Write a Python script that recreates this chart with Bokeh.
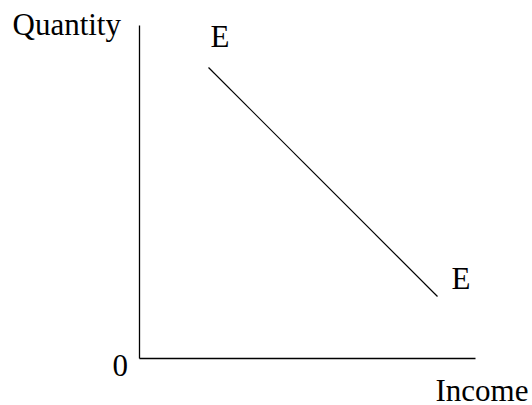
from bokeh.plotting import figure
from bokeh.models import Range1d
from bokeh.core.properties import value
from bokeh.embed import file_html
from bokeh.resources import INLINE

# Engel-type curve E-E: quantity falls as income rises
income = [69, 298]
quantity = [291, 62]

# Axis extents (origin at 0, 0)
x_axis_end = 336
y_axis_end = 333

# Labels
curve_label = "E"
x_title = "Income"
y_title = "Quantity"
origin_label = "0"

FONT = value("Liberation Serif")
SIZE = "31px"

p = figure(width=532, height=405, output_backend="svg", toolbar_location=None,
           x_range=Range1d(-139, 393), y_range=Range1d(-47, 358),
           min_border=0, min_border_left=0, min_border_right=0,
           min_border_top=0, min_border_bottom=0)
p.axis.visible = False
p.grid.visible = False
p.outline_line_color = None
p.background_fill_color = "white"
p.border_fill_color = "white"

# Axes drawn as plain lines
p.line([0, 0], [0, y_axis_end], line_color="black", line_width=1.3)
p.line([0, x_axis_end], [0, 0], line_color="black", line_width=1.3)

# The curve
p.line(income, quantity, line_color="black", line_width=1.2)

def label(x, y, t):
    p.text(x=[x], y=[y], text=[t], text_font=FONT, text_font_size=SIZE,
           text_color="black", text_baseline="alphabetic", text_align="left")

label(-127, 334, y_title)
label(income[0] + 2, quantity[0] + 31, curve_label)
label(income[1] + 14, quantity[1] + 18, curve_label)
label(-27, -7, origin_label)
label(296, -32, x_title)

open("out.html", "w").write(file_html(p, INLINE))
